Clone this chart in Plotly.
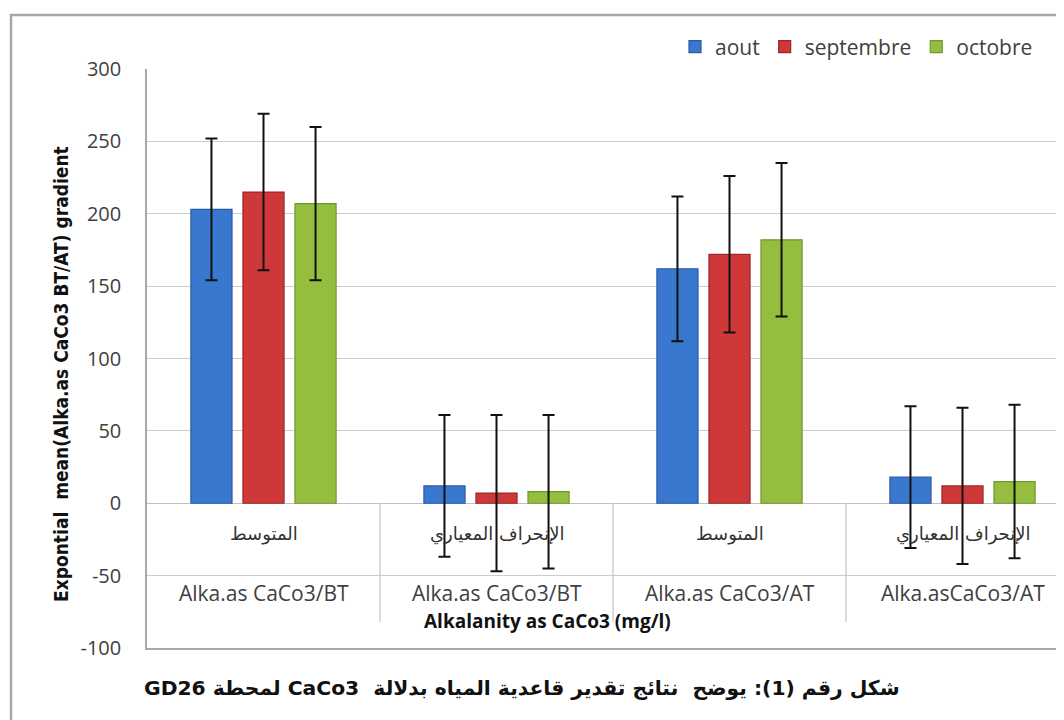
import plotly.graph_objects as go

# ---------------- data ----------------
categories = ["Alka.as CaCo3/BT", "Alka.as CaCo3/BT", "Alka.as CaCo3/AT", "Alka.asCaCo3/AT"]
stat_labels = ["المتوسط", "الإنحراف المعياري", "المتوسط", "الإنحراف المعياري"]
months = ["aout", "septembre", "octobre"]
aout = [203, 12, 162, 18]
septembre = [215, 7, 172, 12]
octobre = [207, 8, 182, 15]
aout_err = [49, 49, 50, 49]
septembre_err = [54, 54, 54, 54]
octobre_err = [53, 53, 53, 53]
y_ticks = [-100, -50, 0, 50, 100, 150, 200, 250, 300]
y_tick_labels = ["-100", "-50", "0", "50", "100", "150", "200", "250", "300"]

y_title = "Expontial  mean(Alka.as CaCo3 BT/AT) gradient"
x_title = "Alkalanity as CaCo3 (mg/l)"
caption = "\u202bشكل رقم (1): يوضح  نتائج تقدير قاعدية المياه بدلالة  CaCo3 لمحطة GD26\u202c"

colors = ["#3a78d0", "#cf3838", "#95be3e"]
edges = ["#2a5aa6", "#9c2828", "#6e9830"]

# ---------------- layout constants ----------------
OFF = 8                      # page body margin of the browser
W, H = 1064 - OFF, 720 - OFF
L, R, T = 147 - OFF, 0, 69 - OFF
B = H - (648 - OFF)
PW, PH = W - L - R, H - T - B


def px_x(sx):
    return (sx - OFF - L) / PW


def px_y(sy):
    return (H - B - (sy - OFF)) / PH


xpos = list(range(len(categories)))
series = [aout, septembre, octobre]
errs = [aout_err, septembre_err, octobre_err]

fig = go.Figure()
for name, vals, err, c, e in zip(months, series, errs, colors, edges):
    fig.add_trace(go.Bar(
        x=xpos, y=vals, name=name,
        marker=dict(color=c, line=dict(color=e, width=1.2)),
        error_y=dict(type="data", array=err, visible=True,
                     color="#111111", thickness=2, width=6),
    ))

group_px = 233.0
x_max = -0.5 + PW / group_px

annotations = []
for i, (cat, st) in enumerate(zip(categories, stat_labels)):
    annotations.append(dict(x=i, y=-21, xref="x", yref="y", text=st, showarrow=False,
                            xanchor="center", yanchor="middle",
                            font=dict(family="DejaVu Sans", size=18, color="#333333")))
    annotations.append(dict(x=i, y=-62, xref="x", yref="y", text=cat, showarrow=False,
                            xanchor="center", yanchor="middle",
                            font=dict(family="Open Sans", size=21, color="#404040")))

annotations.append(dict(x=px_x(61), y=px_y(374), xref="paper", yref="paper",
                        xanchor="center", yanchor="middle",
                        text="<b>" + y_title + "</b>", textangle=-90, showarrow=False,
                        font=dict(family="Liberation Sans Narrow, DejaVu Sans Condensed", size=19,
                                  color="#111111")))
annotations.append(dict(x=px_x(547), y=px_y(621), xref="paper", yref="paper",
                        xanchor="center", yanchor="middle",
                        text="<b>" + x_title + "</b>", showarrow=False,
                        font=dict(family="Open Sans", size=19, color="#111111")))
annotations.append(dict(x=px_x(522), y=px_y(688), xref="paper", yref="paper",
                        xanchor="center", yanchor="middle",
                        text="<b>" + caption + "</b>", showarrow=False,
                        font=dict(family="DejaVu Sans", size=20.3, color="#111111")))

shapes = []
for i in range(len(categories) - 1):
    shapes.append(dict(type="line", xref="x", yref="y", x0=i + 0.5, x1=i + 0.5, y0=0, y1=-82,
                       line=dict(color="#c4c4c4", width=1.2)))
shapes.append(dict(type="rect", xref="paper", yref="paper",
                   x0=px_x(11), x1=px_x(1064 + 20), y0=px_y(720 + 20), y1=px_y(15),
                   line=dict(color="#a8a8a8", width=2.5), layer="below"))

fig.update_layout(
    width=W, height=H,
    margin=dict(l=L, r=R, t=T, b=B),
    paper_bgcolor="white", plot_bgcolor="white",
    barmode="group", bargap=0.33, bargroupgap=0.21,
    font=dict(family="Open Sans", size=20, color="#404040"),
    showlegend=True,
    legend=dict(orientation="h", x=px_x(675), xanchor="left", y=px_y(47), yanchor="middle",
                font=dict(family="Open Sans", size=21, color="#404040"),
                itemwidth=30, bgcolor="rgba(0,0,0,0)"),
    xaxis=dict(range=[-0.5, x_max], showticklabels=False, showgrid=False, zeroline=False,
               showline=True, linecolor="#a8a8a8", linewidth=1.5, fixedrange=True),
    yaxis=dict(range=[-100, 300], tickvals=y_ticks, ticktext=y_tick_labels,
               showgrid=True, gridcolor="#cdcdcd",
               gridwidth=1.2, zeroline=True, zerolinecolor="#c0c0c0", zerolinewidth=1.2,
               showline=True, linecolor="#a8a8a8", linewidth=1.5,
               ticks="", ticklabelstandoff=20, tickfont=dict(size=20, color="#404040")),
    annotations=annotations,
    shapes=shapes,
)

fig.write_html("out.html")
